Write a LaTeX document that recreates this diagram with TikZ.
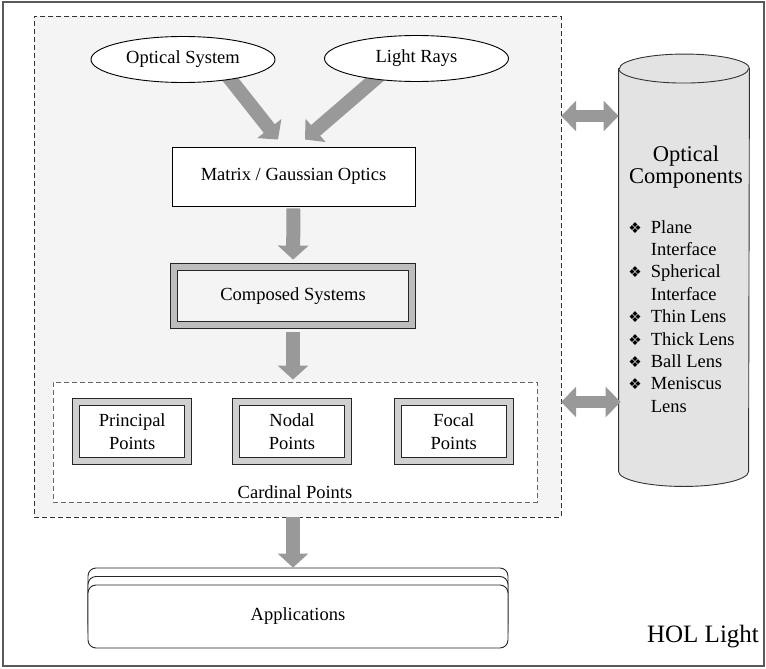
\documentclass[tikz,border=0pt]{standalone}
\usepackage{fontspec}
\setmainfont{Liberation Serif}
\newfontfamily\symfont{DejaVu Sans}
\usetikzlibrary{shapes.geometric,arrows.meta,backgrounds,calc,positioning}
\definecolor{arrowgray}{HTML}{999999}
\definecolor{regiongray}{HTML}{F4F4F4}
\definecolor{bandgray}{HTML}{BDBDBD}
\definecolor{bandlight}{HTML}{D0D0D0}
\definecolor{cylgray}{HTML}{E3E3E3}
\definecolor{framegray}{HTML}{5A5A5A}
\newcommand\normtext{\fontsize{18.5pt}{22.4pt}\selectfont}
\newcommand\diamondbullet{{\symfont\fontsize{15pt}{15pt}\selectfont ❖}}
\tikzset{
  region/.style={draw=black!80,dash pattern=on 5pt off 3pt,fill=regiongray,
    minimum width=527pt,minimum height=501pt,inner sep=0pt},
  cardbox/.style={draw=black!60,dash pattern=on 5pt off 3pt,fill=white,
    minimum width=484pt,minimum height=120pt,inner sep=0pt},
  oval/.style={draw,ellipse,fill=white,minimum width=184pt,minimum height=46pt,
    inner sep=0pt,font=\normtext},
  plainbox/.style={draw,fill=white,minimum width=243pt,minimum height=59pt,font=\normtext},
  bandbox/.style={draw=black!85,double=#1,double distance=6.5pt,line width=0.8pt,
    font=\normtext,align=center},
  pointbox/.style={bandbox=bandlight,fill=white,minimum width=112pt,minimum height=59pt},
  appbox/.style={draw=black!85,fill=white,rounded corners=8pt,minimum width=420pt,
    minimum height=63pt,font=\normtext},
  bigarrow/.style={arrowgray,line width=14pt,-{Triangle[length=14pt,width=30pt]}},
  dblarrow/.style={arrowgray,line width=12pt,
    {Triangle[length=15pt,width=30pt]}-{Triangle[length=15pt,width=30pt]}}
}
\begin{document}
\begin{tikzpicture}[x=1pt,y=-1pt,line width=0.9pt]
  \useasboundingbox (0,0) rectangle (766,669);
  \draw[framegray,line width=1.2pt] (3,2) rectangle (764,666);

  % dashed core region
  \begin{scope}[on background layer]
    \node[region] (core) at (297.5,266.5) {};
  \end{scope}

  \node[oval] (os) at (183,59.5) {Optical System};
  \node[oval] (lr) at (416.5,58.5) {Light Rays};
  \node[plainbox] (mx) at (293.5,176.5) {Matrix / Gaussian Optics};
  \node[bandbox=bandgray,fill=regiongray,minimum width=238pt,minimum height=58pt]
    (cs) at (293,296) {Composed Systems};

  \node[cardbox] (card) at (295,442) {};
  \node[pointbox] (nodal) at (292,431.5) {Nodal\\Points};
  \node[pointbox,left=47pt of nodal] (principal) {Principal\\Points};
  \node[pointbox,right=49pt of nodal] (focal) {Focal\\Points};
  \node[font=\normtext,anchor=base] (cplabel) at ([yshift=4pt]card.south) {Cardinal Points};

  \coordinate (tipl) at ([shift={(-15.5,-7)}]mx.north);
  \coordinate (tipr) at ([shift={(11.5,-7)}]mx.north);
  \begin{scope}[on background layer]
    \draw[bigarrow] ($(os.center)+(38,8)$) -- (tipl);
    \draw[bigarrow] ($(lr.center)+(-28,9)$) -- (tipr);
  \end{scope}
  \draw[bigarrow,shorten <=2pt,shorten >=7pt] (mx.south) -- (cs.north);
  \draw[bigarrow,shorten <=7pt,shorten >=2pt] (cs.south) -- (cs |- card.north);

  % applications
  \node[appbox] (app3) at (298,599.5) {};
  \node[appbox] (app2) at (298,608) {};
  \node[appbox] (app) at (298,616.5) {Applications};
  \draw[bigarrow] (cs |- core.south) -- (cs |- app3.north);

  % optical components store
  \node (comp) at (684,270) [minimum width=130pt,minimum height=402pt,inner sep=0pt] {};
  \filldraw[draw=black!80,fill=cylgray]
    (comp.north west) -- (comp.south west)
    arc[start angle=180,end angle=0,x radius=65,y radius=15]
    -- (comp.north east)
    arc[start angle=0,end angle=-180,x radius=65,y radius=14.5] -- cycle;
  \draw[black!80] (comp.north west)
    arc[start angle=180,end angle=0,x radius=65,y radius=14.5];
  \node[font=\fontsize{22.5pt}{22pt}\selectfont,align=center] (octitle) at (686,167)
    {Optical\\Components};
  \node[anchor=north west,inner sep=0pt,font=\normtext] (oclist) at (628,217) {%
    \begin{tabular}{@{}l@{\hspace{9pt}}l@{}}
      \diamondbullet & Plane\\
                     & Interface\\
      \diamondbullet & Spherical\\
                     & Interface\\
      \diamondbullet & Thin Lens\\
      \diamondbullet & Thick Lens\\
      \diamondbullet & Ball Lens\\
      \diamondbullet & Meniscus\\
                     & Lens
    \end{tabular}};

  \coordinate (uplink) at (0,116);
  \coordinate (lowlink) at (0,402);
  \draw[dblarrow] (core.east |- uplink) -- (comp.west |- uplink);
  \draw[dblarrow] (core.east |- lowlink) -- ([xshift=2pt]comp.west |- lowlink);

  \node[font=\fontsize{25pt}{30pt}\selectfont,anchor=base] (hol) at (703,642) {HOL Light};
\end{tikzpicture}
\end{document}
